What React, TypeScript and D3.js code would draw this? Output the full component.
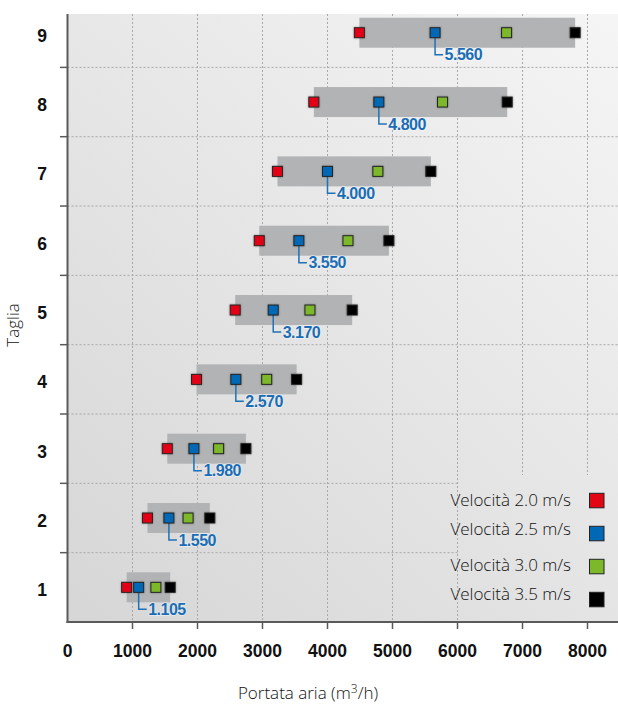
import React from "react";
import * as d3 from "d3";

const sizes = [1, 2, 3, 4, 5, 6, 7, 8, 9];
const red = [910, 1230, 1535, 1985, 2580, 2950, 3230, 3790, 4490];
const blue = [1095, 1560, 1945, 2590, 3165, 3560, 4000, 4790, 5655];
const green = [1360, 1855, 2325, 3065, 3730, 4315, 4775, 5770, 6755];
const black = [1580, 2190, 2745, 3525, 4380, 4945, 5590, 6765, 7810];
const blueLabels = ["1.105", "1.550", "1.980", "2.570", "3.170", "3.550", "4.000", "4.800", "5.560"];
const xTicks = [0, 1000, 2000, 3000, 4000, 5000, 6000, 7000, 8000];
const legendLabels = ["Velocità 2.0 m/s", "Velocità 2.5 m/s", "Velocità 3.0 m/s", "Velocità 3.5 m/s"];
const colors = ["#e30613", "#0068b4", "#7cb82a", "#000000"];

const W = 618, H = 704;
const L = 67.5, R = 618, T = 14, B = 622;

export default function App() {
  const x = d3.scaleLinear().domain([0, 8000]).range([L, L + 520]);
  const y = d3.scaleLinear().domain([0.5, 9.27]).range([B, T]);
  const series = [red, blue, green, black];
  const gridY = d3.range(1.5, 9, 1);
  const legBaselines = [505.7, 535, 570.7, 600];
  const legSquares = [493.3, 526.3, 559.3, 592.3];
  const legX = 458.5, legTop = 475;
  const ms = 10;
  const bh = 30;
  const lightFont = "'Open Sans', 'DejaVu Sans', sans-serif";

  return (
    <div style={{ position: "absolute", left: 0, top: 0 }}>
      <svg width={W} height={H} style={{ display: "block", background: "#fff" }}>
        <defs>
          <linearGradient id="bg" gradientUnits="userSpaceOnUse" x1={L} y1={B} x2={R} y2={T}>
            <stop offset="0" stopColor="#d6d6d6" />
            <stop offset="1" stopColor="#f5f5f5" />
          </linearGradient>
          <filter id="sh" x="-50%" y="-50%" width="200%" height="200%">
            <feDropShadow dx="0" dy="0" stdDeviation="0.8" floodColor="#000" floodOpacity="0.35" />
          </filter>
        </defs>
        <rect x={L} y={T} width={R - L} height={B - T} fill="url(#bg)" />
        {xTicks.filter((t) => t > 0).map((t) => (
          <line key={"gx" + t} x1={x(t)} x2={x(t)} y1={T} y2={B} stroke="#a8a8a8" strokeWidth={1} strokeDasharray="2,2" />
        ))}
        {gridY.map((g) => (
          <line key={"gy" + g} x1={L} x2={R} y1={y(g)} y2={y(g)} stroke="#a8a8a8" strokeWidth={1} strokeDasharray="2,2" />
        ))}
        <rect x={legX} y={legTop} width={R - legX} height={B - legTop} fill="url(#bg)" />
        <line x1={L} x2={L} y1={T} y2={B + 1} stroke="#5a5a5a" strokeWidth={2} />
        <line x1={L - 1} x2={R} y1={B} y2={B} stroke="#5a5a5a" strokeWidth={2} />
        {gridY.map((g) => (
          <line key={"ty" + g} x1={L - 7.5} x2={L} y1={y(g)} y2={y(g)} stroke="#5a5a5a" strokeWidth={1.5} />
        ))}
        {xTicks.filter((t) => t > 0).map((t) => (
          <line key={"tx" + t} x1={x(t)} x2={x(t)} y1={B} y2={B + 7} stroke="#5a5a5a" strokeWidth={1.5} />
        ))}
        {xTicks.map((t) => (
          <text key={"xl" + t} x={x(t)} y={656.5} textAnchor="middle" fontFamily="'Liberation Sans', Arial, sans-serif" fontWeight="bold" fontSize={17.5} fill="#111">
            {t}
          </text>
        ))}
        {sizes.map((s) => (
          <text key={"yl" + s} x={47} y={y(s) + 9} textAnchor="end" fontFamily="'Liberation Sans', Arial, sans-serif" fontWeight="bold" fontSize={17.5} fill="#111">
            {s}
          </text>
        ))}
        {sizes.map((s, i) => (
          <rect key={"bar" + s} x={x(red[i])} y={y(s) - bh / 2} width={x(black[i]) - x(red[i])} height={bh} fill="#b2b3b4" />
        ))}
        {sizes.map((s, i) => {
          const bx = x(blue[i]);
          const cy = y(s);
          return (
            <g key={"lab" + s}>
              <path d={`M${bx},${cy}V${cy + 22}H${bx + 8}`} fill="none" stroke="#1f72b8" strokeWidth={1.5} />
              <text x={bx + 9.5} y={cy + 27.5} fontFamily="'Liberation Sans', Arial, sans-serif" fontWeight="bold" fontSize={16} letterSpacing={-0.5} fill="#1a6db5" stroke="#ffffff" strokeOpacity={0.5} strokeWidth={1.5} paintOrder="stroke">
                {blueLabels[i]}
              </text>
            </g>
          );
        })}
        {series.map((arr, k) =>
          sizes.map((s, i) => (
            <rect key={"m" + k + "-" + s} x={x(arr[i]) - ms / 2} y={y(s) - ms / 2} width={ms} height={ms} fill={colors[k]} stroke="#222" strokeWidth={1} filter="url(#sh)" />
          ))
        )}
        {legendLabels.map((lab, k) => (
          <g key={"lg" + k}>
            <text x={571} y={legBaselines[k]} textAnchor="end" fontFamily={lightFont} fontWeight={300} fontSize={17} fill="#111">
              {lab}
            </text>
            <rect x={589.5} y={legSquares[k]} width={14.5} height={14.5} fill={colors[k]} stroke="#222" strokeWidth={1} />
          </g>
        ))}
        <text x={308} y={699} textAnchor="middle" fontFamily={lightFont} fontWeight={300} fontSize={17} fill="#111">
          Portata aria (m<tspan dy={-6} fontSize={12}>3</tspan><tspan dy={6}>/h)</tspan>
        </text>
        <text transform={`translate(19,${325}) rotate(-90)`} textAnchor="middle" fontFamily={lightFont} fontWeight={300} fontSize={17} fill="#111">
          Taglia
        </text>
      </svg>
    </div>
  );
}
